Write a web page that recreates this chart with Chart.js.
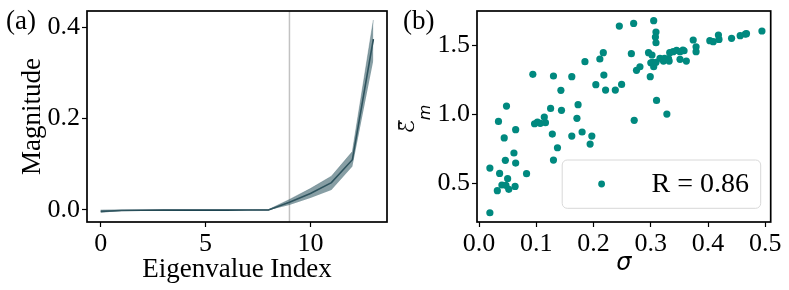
<!DOCTYPE html>
<html><head><meta charset="utf-8">
<script src="https://cdn.jsdelivr.net/npm/chart.js@4.4.0/dist/chart.umd.min.js"></script>
<style>
html,body{margin:0;padding:0;background:#fff;width:789px;height:290px;overflow:hidden}
#a{position:absolute;left:0;top:0}
#b{position:absolute;left:390px;top:0}
</style></head><body>
<canvas id="a" width="390" height="290"></canvas>
<canvas id="b" width="399" height="290"></canvas>
<script>
// ---------- Panel (a) data ----------
const eigIndex = [0,1,2,3,4,5,6,7,8,9,10,11,12,13];
const magMean  = [-0.003,-0.001,-0.0005,-0.0003,-0.0002,-0.0002,-0.0002,-0.0001,0.0,0.017,0.036,0.060,0.110,0.374];
const magUpper = [0.000,0.0003,0.0003,0.0003,0.0003,0.0003,0.0003,0.0003,0.0008,0.023,0.047,0.074,0.128,0.416];
const magLower = [-0.006,-0.002,-0.0012,-0.0009,-0.0007,-0.0007,-0.0007,-0.0005,-0.0006,0.011,0.026,0.044,0.095,0.328];
const splitIndex = [9];
const xTicksA = [0,5,10];
const yTicksA = [0.0,0.2,0.4];

// ---------- Panel (b) data ----------
const sigmaVals = [0.019,0.019,0.032,0.036,0.034,0.040,0.044,0.046,0.048,0.047,0.050,0.052,0.061,0.063,0.064,0.064,0.083,0.094,0.097,0.102,0.107,0.114,0.116,0.125,0.128,0.130,0.130,0.137,0.143,0.144,0.162,0.162,0.171,0.173,0.180,0.185,0.194,0.197,0.204,0.211,0.217,0.218,0.221,0.238,0.245,0.249,0.266,0.270,0.271,0.275,0.281,0.296,0.299,0.302,0.300,0.305,0.303,0.305,0.309,0.308,0.309,0.309,0.310,0.316,0.322,0.324,0.328,0.331,0.333,0.332,0.339,0.345,0.351,0.351,0.356,0.358,0.362,0.374,0.379,0.379,0.403,0.409,0.418,0.419,0.441,0.456,0.465,0.467,0.494];
const emVals    = [0.287,0.611,0.447,0.572,0.949,0.488,0.829,0.667,1.060,0.486,0.534,0.457,0.720,0.478,0.889,0.647,0.570,1.290,0.932,0.944,0.935,0.981,0.940,1.043,0.857,1.278,0.669,0.758,1.174,1.029,1.273,0.843,0.971,1.070,0.872,1.382,0.785,0.843,1.215,1.401,1.447,1.285,1.176,1.176,1.640,1.217,1.440,1.659,0.957,1.319,1.345,1.447,1.273,1.430,1.374,1.679,1.377,1.345,1.597,1.560,1.519,1.377,1.101,1.406,1.386,1.406,1.002,1.403,1.447,1.386,1.454,1.464,1.399,1.454,1.466,1.461,1.386,1.539,1.490,1.454,1.534,1.527,1.575,1.543,1.551,1.570,1.582,1.585,1.604];
const xTicksB = [0.0,0.1,0.2,0.3,0.4,0.5];
const yTicksB = [0.5,1.0,1.5];
const legendLabel = 'R = 0.86';

// ---------- styling ----------
const SERIF = '"Liberation Serif", "Times New Roman", serif';
Chart.defaults.font.family = SERIF;
Chart.defaults.color = '#000';
Chart.defaults.animation = false;

const TICK_FONT = {family: SERIF, size: 26, lineHeight: 1.2};
const LABEL_FONT = {family: SERIF, size: 27, lineHeight: 1};
const bandColor = 'rgba(62,98,108,0.62)';
const lineColor = '#163c48';
const dotColor = '#00897f';

function fixedTicks(arr){ return s => { s.ticks = arr.map(v => ({value: v})); }; }
function fixY(w){ return s => { s.width = w; s.paddingTop = 0; s.paddingBottom = 0; s.paddingLeft = 0; s.paddingRight = 0; }; }
function fixX(h){ return s => { s.height = h; s.paddingTop = 0; s.paddingBottom = 0; s.paddingLeft = 0; s.paddingRight = 0; }; }
const gridOpts = {display: true, drawOnChartArea: false, drawTicks: true, tickLength: 5, tickWidth: 1.2, tickColor: '#000'};

const framePlugin = {
  id: 'frame',
  afterDraw(chart){
    const {ctx, chartArea: a} = chart;
    ctx.save();
    ctx.strokeStyle = '#000';
    ctx.lineWidth = 1.7;
    ctx.strokeRect(a.left, a.top, a.right - a.left, a.bottom - a.top);
    ctx.restore();
  }
};
function panelLabel(text, x){
  return {
    id: 'panel' + text,
    afterDraw(chart){
      const ctx = chart.ctx;
      ctx.save();
      ctx.font = '27px ' + SERIF;
      ctx.fillStyle = '#000';
      ctx.textBaseline = 'alphabetic';
      ctx.textAlign = 'left';
      ctx.fillText(text, x, 29);
      ctx.restore();
    }
  };
}
const vlinePlugin = {
  id: 'vline',
  beforeDatasetsDraw(chart){
    const {ctx, chartArea: a, scales} = chart;
    ctx.save();
    ctx.strokeStyle = '#c2c2c2';
    ctx.lineWidth = 1.5;
    splitIndex.forEach(v => {
      const px = scales.x.getPixelForValue(v);
      ctx.beginPath(); ctx.moveTo(px, a.top); ctx.lineTo(px, a.bottom); ctx.stroke();
    });
    ctx.restore();
  }
};

// ---------- Chart (a) ----------
new Chart(document.getElementById('a'), {
  type: 'line',
  data: {
    datasets: [
      {data: eigIndex.map((x,i)=>({x, y: magLower[i]})), borderWidth: 0, pointRadius: 0, fill: false, borderColor: 'rgba(0,0,0,0)'},
      {data: eigIndex.map((x,i)=>({x, y: magUpper[i]})), borderWidth: 0.6, borderColor: bandColor, pointRadius: 0, fill: '-1', backgroundColor: bandColor},
      {data: eigIndex.map((x,i)=>({x, y: magMean[i]})), borderWidth: 1.6, borderColor: lineColor, pointRadius: 0, fill: false}
    ]
  },
  options: {
    responsive: false,
    devicePixelRatio: 1,
    layout: {padding: {left: 0, right: 3, top: 11, bottom: 0}},
    plugins: {legend: {display: false}, tooltip: {enabled: false}},
    scales: {
      x: {
        type: 'linear', min: -0.65, max: 13.65,
        afterBuildTicks: fixedTicks(xTicksA), afterFit: fixX(68),
        grid: gridOpts, border: {display: false},
        ticks: {font: TICK_FONT, padding: 2, maxRotation: 0, autoSkip: false, callback: v => String(v)},
        title: {display: true, text: 'Eigenvalue Index', font: LABEL_FONT, padding: {top: 0, bottom: 6.5}}
      },
      y: {
        type: 'linear', min: -0.0263, max: 0.4357,
        afterBuildTicks: fixedTicks(yTicksA), afterFit: fixY(87),
        grid: gridOpts, border: {display: false},
        ticks: {font: TICK_FONT, padding: 2, autoSkip: false, callback: v => Number(v).toFixed(1)},
        title: {display: true, text: 'Magnitude', font: LABEL_FONT, padding: {top: 19, bottom: 0}}
      }
    }
  },
  plugins: [vlinePlugin, framePlugin, panelLabel('(a)', 6)]
});

// ---------- Chart (b) ----------
const yLabelPlugin = {
  id: 'ylabelB',
  afterDraw(chart){
    const ctx = chart.ctx;
    const a = chart.chartArea;
    ctx.save();
    ctx.translate(23.5, (a.top + a.bottom) / 2 + 17);
    ctx.rotate(-Math.PI / 2);
    ctx.fillStyle = '#000';
    ctx.textBaseline = 'alphabetic';
    ctx.textAlign = 'left';
    ctx.font = 'italic 22px "DejaVu Sans"';
    ctx.fillText('\u2130', 0, 0);
    const w = ctx.measureText('\u2130').width;
    ctx.strokeStyle = '#000';
    ctx.lineWidth = 1.5;
    ctx.beginPath(); ctx.moveTo(4, -14.5); ctx.lineTo(w, -14.5); ctx.stroke();
    ctx.font = 'italic 16px "DejaVu Sans"';
    ctx.fillText('m', w, 16.5);
    ctx.restore();
  }
};
const legendPlugin = {
  id: 'legendB',
  afterDraw(chart){
    const ctx = chart.ctx;
    const a = chart.chartArea;
    const x0 = a.right - 208.5, y0 = a.top + 149, w = 198.5, h = 48.3, r = 5;
    ctx.save();
    ctx.fillStyle = 'rgba(255,255,255,0.8)';
    ctx.strokeStyle = '#d8d8d8';
    ctx.lineWidth = 1;
    ctx.beginPath();
    ctx.roundRect(x0, y0, w, h, r);
    ctx.fill(); ctx.stroke();
    ctx.fillStyle = chart.data.datasets[0].backgroundColor;
    ctx.beginPath(); ctx.arc(x0 + 39.4, y0 + 24, 3.4, 0, Math.PI * 2); ctx.fill();
    ctx.fillStyle = '#000';
    ctx.font = '28px ' + SERIF;
    ctx.textBaseline = 'alphabetic';
    ctx.fillText(chart.data.datasets[0].label, x0 + 89.4, y0 + 31.5);
    ctx.restore();
  }
};
new Chart(document.getElementById('b'), {
  type: 'scatter',
  data: {
    datasets: [{
      label: legendLabel,
      data: sigmaVals.map((x,i)=>({x, y: emVals[i]})),
      backgroundColor: dotColor, borderWidth: 0, pointRadius: 3.6
    }]
  },
  options: {
    responsive: false,
    devicePixelRatio: 1,
    layout: {padding: {left: 0, right: 18.3, top: 11, bottom: 0}},
    plugins: {legend: {display: false}, tooltip: {enabled: false}},
    scales: {
      x: {
        type: 'linear', min: -0.0035, max: 0.5093,
        afterBuildTicks: fixedTicks(xTicksB), afterFit: fixX(68),
        grid: gridOpts, border: {display: false},
        ticks: {font: TICK_FONT, padding: 2, maxRotation: 0, autoSkip: false, callback: v => Number(v).toFixed(1)},
        title: {display: true, text: '\u03c3', font: {family: '"DejaVu Sans"', size: 24, style: 'italic', lineHeight: 1}, padding: {top: 0, bottom: 14}}
      },
      y: {
        type: 'linear', min: 0.22, max: 1.749,
        afterBuildTicks: fixedTicks(yTicksB), afterFit: fixY(87),
        grid: gridOpts, border: {display: false},
        ticks: {font: TICK_FONT, padding: 2, autoSkip: false, callback: v => Number(v).toFixed(1)},
        title: {display: false}
      }
    }
  },
  plugins: [framePlugin, yLabelPlugin, legendPlugin, panelLabel('(b)', 13)]
});
</script>
</body></html>
